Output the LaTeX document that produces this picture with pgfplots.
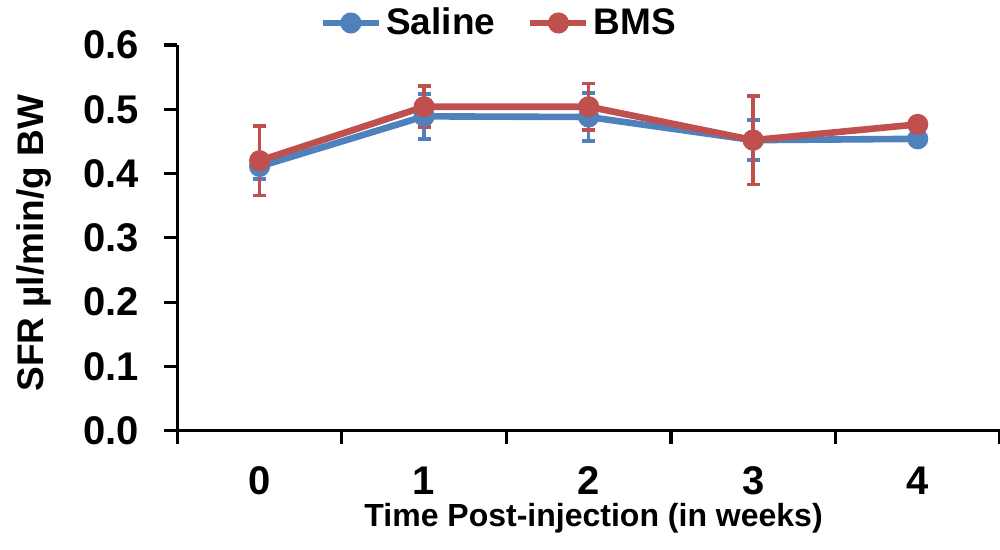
\documentclass[border=0pt]{standalone}
\usepackage{pgfplots}
\pgfplotsset{compat=1.18}
\usepackage{pgfplotstable}
\usepackage{fontspec}
\setmainfont{Liberation Sans}
\definecolor{sblue}{HTML}{4F81BD}
\definecolor{bred}{HTML}{C0504D}
\pgfplotstableread{
x y e
0 0.411 0.019
1 0.489 0.035
2 0.488 0.037
3 0.452 0.031
4 0.454 0.005
}\saline
\pgfplotstableread{
x y e
0 0.420 0.054
1 0.504 0.032
2 0.504 0.036
3 0.452 0.069
4 0.4765 0.010
}\bms
\begin{document}
\begin{tikzpicture}
\path[use as bounding box] (0,0) rectangle (500pt,275pt);
\begin{axis}[
  at={(88.65pt,59.65pt)}, anchor=south west,
  scale only axis, width=411.35pt, height=192.85pt,
  xmin=-0.5, xmax=4.5, ymin=0, ymax=0.6,
  axis x line=bottom, axis y line=left,
  axis line style={-, line width=1.6pt, black},
  tick style={line width=1.6pt, black},
  tick align=outside,
  major tick length=6.5pt, minor tick length=6.5pt,
  xtick={0,1,2,3,4},
  every major x tick/.append style={draw=none},
  minor xtick={-0.5,0.5,1.5,2.5,3.5,4.5},
  ytick={0,0.1,0.2,0.3,0.4,0.5,0.6},
  /pgf/number format/assume math mode=true,
  yticklabel style={/pgf/number format/fixed, /pgf/number format/fixed zerofill, /pgf/number format/precision=1},
  ticklabel style={font=\fontsize{20}{24}\selectfont\bfseries},
  xticklabel style={anchor=base, yshift=-25.5pt},
  yticklabel style={anchor=east, xshift=-9pt},
  ylabel={SFR µl/min/g BW},
  ylabel style={font=\fontsize{18.5}{22}\selectfont\bfseries, at={(axis description cs:-0.174,0.486)}, anchor=center},
  xlabel={Time Post-injection (in weeks)},
  xlabel style={font=\fontsize{16}{19}\selectfont\bfseries, at={(axis description cs:0.506,0)}, anchor=base, yshift=-48pt},
  legend style={at={(axis description cs:0.392,1.057)}, anchor=center, draw=none, fill=none,
    legend columns=2, font=\fontsize{18.5}{22}\selectfont\bfseries,
    /tikz/every even column/.append style={column sep=14pt}},
  legend image code/.code={\draw[mark repeat=2,mark phase=2,#1] plot coordinates {(0pt,0pt) (14pt,0pt) (28pt,0pt)};},
  error bars/error bar style={line width=1.7pt, solid},
  error bars/error mark options={line width=1.9pt, mark size=3.2pt, rotate=90},
]
\addplot[color=sblue, line width=3.3pt, mark=*, mark size=3.6pt, mark options={solid},
  error bars/.cd, y dir=both, y explicit]
  table[x=x, y=y, y error=e]{\saline};
\addlegendentry{Saline}
\addplot[color=bred, line width=3.3pt, mark=*, mark size=3.6pt, mark options={solid},
  error bars/.cd, y dir=both, y explicit]
  table[x=x, y=y, y error=e]{\bms};
\addlegendentry{BMS}
\end{axis}
\end{tikzpicture}
\end{document}
